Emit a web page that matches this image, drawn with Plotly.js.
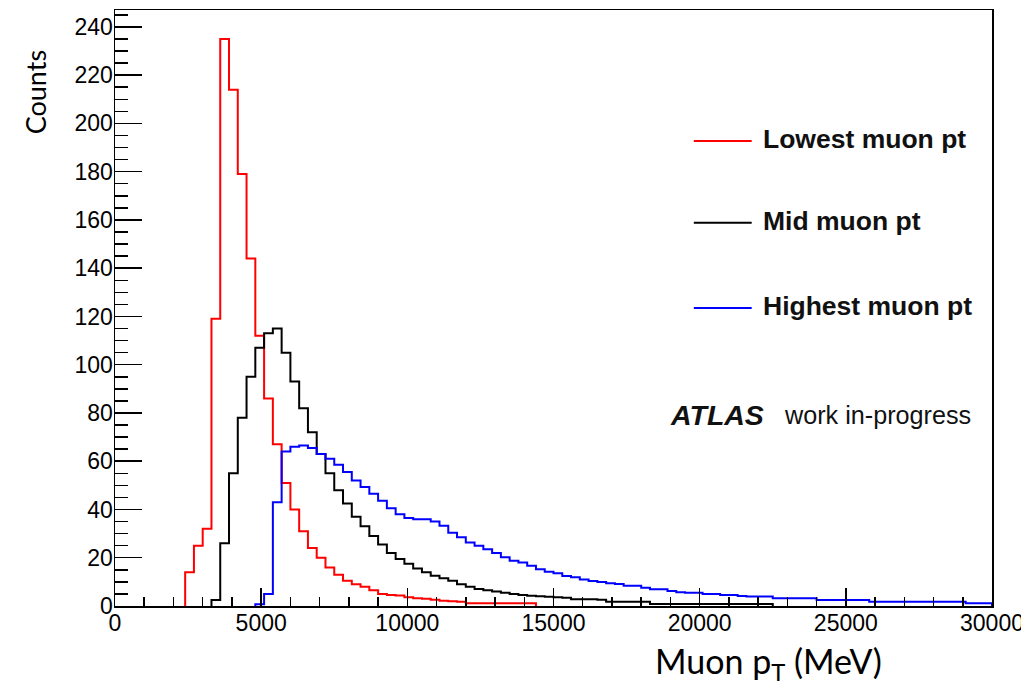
<!DOCTYPE html>
<html>
<head>
<meta charset="utf-8">
<script src="https://cdn.plot.ly/plotly-3.0.1.min.js"></script>
<style>
  html, body { margin: 0; padding: 0; background: #fff; }
  #chart { width: 1021px; height: 684px; }
</style>
</head>
<body>
<div id="chart"></div>
<script>
// Histogram binning (MeV)
const binWidth = 300;

// Lowest-pT muon: counts per bin, first bin starts at lowestStart
const lowestStart = 2400;
const lowestCounts = [
  14, 25, 32, 119, 235, 214, 179, 144, 112, 86,
  67, 51, 40, 31, 24, 20, 16, 13, 10.5, 9,
  8, 6.5, 5, 4.6, 4.3, 3.6, 3.2, 3, 2.6, 2.2,
  2, 1.8, 1.1, 1.1, 1.1, 1.1, 1.1, 1.1, 1.1, 1.1
];

// Middle muon
const midStart = 3300;
const midCounts = [
  2.5, 26, 55, 78, 95, 107, 113, 115, 105, 93,
  82, 72, 63, 55, 48, 42.5, 37, 33, 29, 25.5,
  22, 19.5, 17.5, 15.5, 14, 12.5, 11.5, 10.5, 9, 8,
  7, 6.5, 6, 5.5, 5, 4.6, 4.2, 4, 3.8, 3.6,
  3.4, 2.8, 2.8, 2.8, 2.6, 1.8, 1.8, 1.8, 1.8, 1.8,
  0.8, 0.8, 0.8, 0.8, 0.8, 0.8, 0.8, 0.8, 0.8, 0.8,
  0.8, 0.8, 0.8, 0.8
];

// Highest-pT muon
const highestStart = 4800;
const highestCounts = [
  0.7, 5, 43, 64, 66, 66.5, 65.5, 63, 61, 58.5,
  55.5, 52, 49.3, 46.5, 43.6, 40.5, 38, 36.5, 36, 36,
  35, 33.3, 30.4, 28.5, 26.3, 25, 23.5, 22, 20.2, 18.8,
  18, 16.7, 15.2, 14.2, 13.6, 12.4, 11.9, 11, 10.4, 9.9,
  9.4, 9.1, 8.4, 8.4, 7.6, 6.9, 6.9, 6.2, 5.7, 5.5,
  5.5, 5, 5, 4.6, 4.6, 4.1, 3.9, 3.9, 3.9, 3.2,
  3.2, 3.2, 3.2, 3.2, 2.5, 2.5, 2.5, 2.5, 2.5, 2.5,
  1.8, 1.8, 1.8, 1.8, 1.8, 1.8, 1.8, 1.8, 1.8, 1.8,
  1.8, 1.1, 1.1, 1.1
];

const seriesNames = ['Lowest muon pt', 'Mid muon pt', 'Highest muon pt'];
const seriesColors = ['#ff0000', '#000000', '#0000ff'];

// Turn bin contents into a step outline that starts and ends on the baseline
function stepOutline(start, counts) {
  const xs = [start], ys = [0];
  counts.forEach((c, i) => { xs.push(start + i * binWidth); ys.push(c); });
  const end = start + counts.length * binWidth;
  xs.push(end); ys.push(counts[counts.length - 1]);
  xs.push(end); ys.push(0);
  return { xs, ys };
}

const sets = [
  stepOutline(lowestStart, lowestCounts),
  stepOutline(midStart, midCounts),
  stepOutline(highestStart, highestCounts)
];

const traces = sets.map((s, i) => ({
  type: 'scatter',
  mode: 'lines',
  x: s.xs,
  y: s.ys,
  name: seriesNames[i],
  line: { color: seriesColors[i], width: 2, shape: 'hv' },
  hoverinfo: 'skip',
  showlegend: false
}));

const helv = 'Liberation Sans, Arial, sans-serif';
const legendFont = { family: helv, size: 26.5, color: '#111' };
const legendY = [0.780, 0.643, 0.500];

const shapes = legendY.map((y, i) => ({
  type: 'line', xref: 'paper', yref: 'paper',
  x0: 0.660, x1: 0.726, y0: y, y1: y,
  line: { color: seriesColors[i], width: 2 }
}));

const annotations = legendY.map((y, i) => ({
  xref: 'paper', yref: 'paper', x: 0.737, y: y + 0.003,
  xanchor: 'left', yanchor: 'middle', showarrow: false,
  text: '<b>' + seriesNames[i] + '</b>',
  font: legendFont
}));

annotations.push(
  {
    xref: 'paper', yref: 'paper', x: 0.630, y: 0.3205,
    xanchor: 'left', yanchor: 'middle', showarrow: false,
    text: '<b><i>ATLAS</i></b>',
    font: { family: helv, size: 28.5, color: '#111' }
  },
  {
    xref: 'paper', yref: 'paper', x: 0.760, y: 0.3205,
    xanchor: 'left', yanchor: 'middle', showarrow: false,
    text: 'work in-progress',
    font: { family: helv, size: 25.2, color: '#111' }
  },
  {
    xref: 'paper', yref: 'paper', x: -0.0912, y: 0.862,
    xanchor: 'center', yanchor: 'middle', showarrow: false,
    textangle: -90,
    text: 'Counts',
    font: { family: 'Lato, sans-serif', size: 27, color: '#000' }
  },
  {
    xref: 'paper', yref: 'paper', x: 0.7446, y: -0.095,
    xanchor: 'center', yanchor: 'middle', showarrow: false,
    text: 'Muon p<sub>T</sub> (MeV)',
    font: { family: 'Lato, sans-serif', size: 34, color: '#000' }
  }
);

const tickFont = { family: helv, size: 23, color: '#000' };

const layout = {
  width: 1021,
  height: 684,
  margin: { l: 115, r: 29, t: 10, b: 78 },
  paper_bgcolor: '#ffffff',
  plot_bgcolor: '#ffffff',
  showlegend: false,
  xaxis: {
    range: [0, 30000],
    dtick: 5000,
    tick0: 0,
    ticks: 'inside',
    ticklen: 18,
    tickwidth: 1.5,
    tickcolor: '#000',
    minor: { dtick: 1000, ticks: 'inside', ticklen: 9, tickwidth: 1.5, tickcolor: '#000', showgrid: false },
    showgrid: false,
    zeroline: false,
    showline: true,
    linecolor: '#000',
    linewidth: 1.5,
    mirror: true,
    tickfont: tickFont,
    tickformat: 'd',
    ticklabeloverflow: 'allow',
    ticklabelstandoff: -4,
    fixedrange: true
  },
  yaxis: {
    range: [0, 247],
    dtick: 20,
    tick0: 0,
    ticks: 'inside',
    ticklen: 27,
    tickwidth: 1.5,
    tickcolor: '#000',
    minor: { dtick: 5, ticks: 'inside', ticklen: 13, tickwidth: 1.5, tickcolor: '#000', showgrid: false },
    showgrid: false,
    zeroline: false,
    showline: true,
    linecolor: '#000',
    linewidth: 1.5,
    mirror: true,
    tickfont: tickFont,
    ticklabelstandoff: -4,
    fixedrange: true
  },
  shapes: shapes,
  annotations: annotations
};

Plotly.newPlot('chart', traces, layout, { staticPlot: true, displayModeBar: false });
</script>
</body>
</html>
